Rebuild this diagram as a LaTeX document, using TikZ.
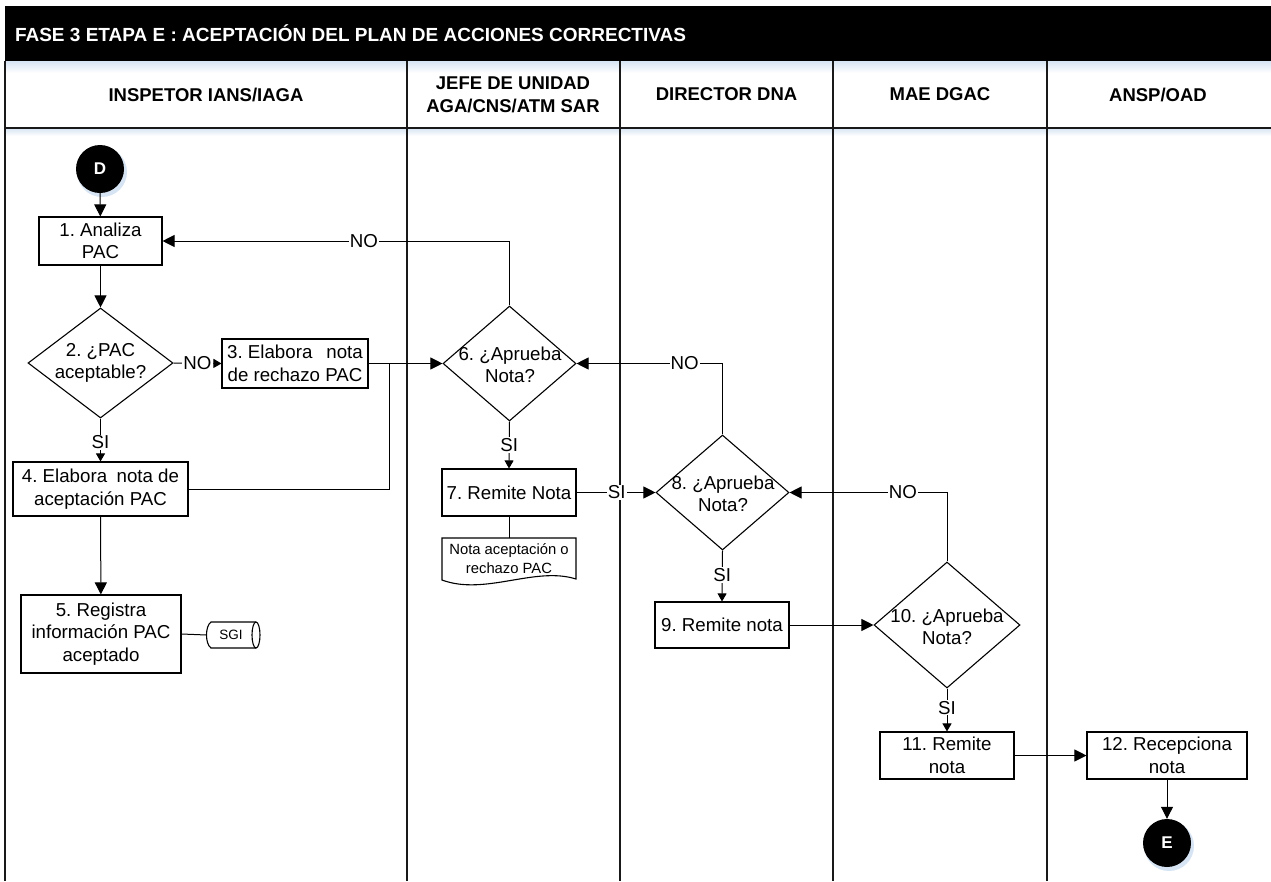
\documentclass[tikz,border=0pt]{standalone}
\usepackage{fontspec}
\setmainfont{Liberation Sans}
\usetikzlibrary{shapes.geometric,arrows.meta,calc}
\definecolor{glowblue}{RGB}{214,228,243}
\definecolor{lanecol}{RGB}{25,25,25}
\frenchspacing
\begin{document}
\begin{tikzpicture}[x=1pt,y=-1pt,
  box/.style={draw, line width=1.1pt, fill=white, align=center, inner sep=0pt,
    font=\fontsize{18.7}{22.5}\selectfont},
  dia/.style={draw, diamond, line width=1.1pt, fill=white, inner sep=0pt},
  diatext/.style={align=center, inner sep=0pt, font=\fontsize{18.7}{22.5}\selectfont},
  term/.style={circle, fill=black, text=white, inner sep=0pt, minimum size=48pt,
    font=\fontsize{17}{19}\selectfont\bfseries},
  lbl/.style={fill=white, inner sep=1pt, font=\fontsize{18.7}{22}\selectfont},
  conn/.style={line width=1pt},
  arr/.style={conn, -{Triangle[length=12pt,width=12pt]}},
  sarr/.style={conn, -{Triangle[length=8pt,width=9pt]}},
  lane/.style={line width=1.7pt, draw=lanecol},
  lanehead/.style={font=\fontsize{18.5}{23}\selectfont\bfseries, align=center}]
\useasboundingbox (0,0) rectangle (1271,881);
% header
\fill[black] (5,6) rectangle (1272,61);
\node[anchor=west, text=white, font=\fontsize{19}{22}\selectfont\bfseries] (title) at (11.5,33.5)
  {FASE 3 ETAPA E : ACEPTACIÓN DEL PLAN DE ACCIONES CORRECTIVAS};
\shade[top color=glowblue, bottom color=white] (5,61) rectangle (1272,73);
\shade[top color=glowblue, bottom color=white] (5,128) rectangle (1272,136);
% lanes
\draw[lane] (5,61) -- (5,881);
\draw[lane] (407,61) -- (407,881);
\draw[lane] (620,61) -- (620,881);
\draw[lane] (833,61) -- (833,881);
\draw[lane] (1047,61) -- (1047,881);
\draw[lane] (5,128) -- (1272,128);
\node[lanehead] (h1) at (206,94.5) {INSPETOR IANS/IAGA};
\node[lanehead] (h2) at (513,94.5) {JEFE DE UNIDAD\\AGA/CNS/ATM SAR};
\node[lanehead] (h3) at (726.5,94.5) {DIRECTOR DNA};
\node[lanehead] (h4) at (940,94.5) {MAE DGAC};
\node[lanehead] (h5) at (1158,94.5) {ANSP/OAD};
% glows
\fill[glowblue] (102,172) circle (25);
\fill[glowblue] (1169,846) circle (25);
% nodes
\node[term] (D) at (100,169) {D};
\node[term] (E) at (1167,843) {E};
\node[box, minimum width=123pt, minimum height=48pt] (b1) at (100.5,241) {1. Analiza\\PAC};
\node[dia, minimum width=145pt, minimum height=110pt] (d2) at (100.5,363) {};
\node[diatext] (t2) at (100.5,363) {2. ¿PAC\\aceptable?};
\node[box, minimum width=146pt, minimum height=49pt] (b3) at (295,363.5) {3. Elabora\hspace{14pt}nota\\de rechazo PAC};
\node[box, minimum width=175pt, minimum height=54pt] (b4) at (100.5,489) {4. Elabora\hspace{9.5pt}nota de\\aceptación PAC};
\node[box, minimum width=160pt, minimum height=78pt] (b5) at (101,634) {5. Registra\\información PAC\\aceptado};
\node[dia, minimum width=133pt, minimum height=115pt] (d6) at (509.5,363.5) {};
\node[diatext] (t6) at (510,365) {6. ¿Aprueba\\Nota?};
\node[box, minimum width=134pt, minimum height=47pt] (b7) at (509,492.5) {7. Remite Nota};
\node[dia, minimum width=133pt, minimum height=115pt] (d8) at (722.5,492.5) {};
\node[diatext] (t8) at (723,494) {8. ¿Aprueba\\Nota?};
\node[box, minimum width=134pt, minimum height=46pt] (b9) at (722,625) {9. Remite nota};
\node[dia, minimum width=146pt, minimum height=126pt] (d10) at (947,625) {};
\node[diatext] (t10) at (947,627) {10. ¿Aprueba\\Nota?};
\node[box, minimum width=134pt, minimum height=47pt] (b11) at (947,755.5) {11. Remite\\nota};
\node[box, minimum width=160pt, minimum height=47pt] (b12) at (1167,755.5) {12. Recepciona\\nota};
% document
\coordinate (doctop) at (509,538);
\draw[line width=1.1pt, fill=white] (442,538) -- (576,538) -- (576,579)
  .. controls (535,566) and (485,596) .. (442,580) -- cycle;
\node[align=center, inner sep=0pt, font=\fontsize{14.8}{19}\selectfont] (doc) at (509,559)
  {Nota aceptación o\\rechazo PAC};
% SGI storage
\coordinate (sgiL) at (206.5,635);
\fill[white] (209,622) rectangle (256,648);
\draw[line width=1.1pt] (256,622) -- (211,622) .. controls (205,626) and (205,644) .. (211,648) -- (256,648);
\draw[line width=1.1pt] (256,635) ellipse [x radius=4, y radius=13];
\node[inner sep=0pt, font=\fontsize{13.5}{16}\selectfont] (sgi) at (231,635) {SGI};
% connectors
\draw[arr] (D) -- (b1);
\draw[arr] (b1) -- (d2);
\draw[sarr] (d2.east) -- node[lbl] (no2) {NO} (b3.west);
\draw[sarr] (d2.south) -- node[lbl, pos=0.55] (si2) {SI} (b4.north);
\draw[arr] (b4) -- (b5);
\draw[conn] (b5.east) -- (sgiL);
\draw[arr] (b3.east) -- (d6.west);
\coordinate (j1) at (389,363.5);
\draw[conn] (b4.east) -| (j1);
\draw[arr] (d6.north) |- node[lbl, pos=0.71] (no6) {NO} (b1.east);
\draw[sarr] (d6.south) -- node[lbl, pos=0.5] (si6) {SI} (b7.north);
\draw[conn] (b7.south) -- (doctop);
\draw[arr] (b7.east) -- node[lbl, pos=0.51] (si7) {SI} (d8.west);
\draw[arr] (d8.north) |- node[lbl, pos=0.63] (no8) {NO} (d6.east);
\draw[sarr] (d8.south) -- node[lbl, pos=0.48] (si8) {SI} (b9.north);
\draw[arr] (b9.east) -- (d10.west);
\draw[arr] (d10.north) |- node[lbl, pos=0.64] (no10) {NO} (d8.east);
\draw[sarr] (d10.south) -- node[lbl, pos=0.45] (si10) {SI} (b11.north);
\draw[arr] (b11.east) -- (b12.west);
\draw[arr] (b12.south) -- (E.north);
\end{tikzpicture}
\end{document}
